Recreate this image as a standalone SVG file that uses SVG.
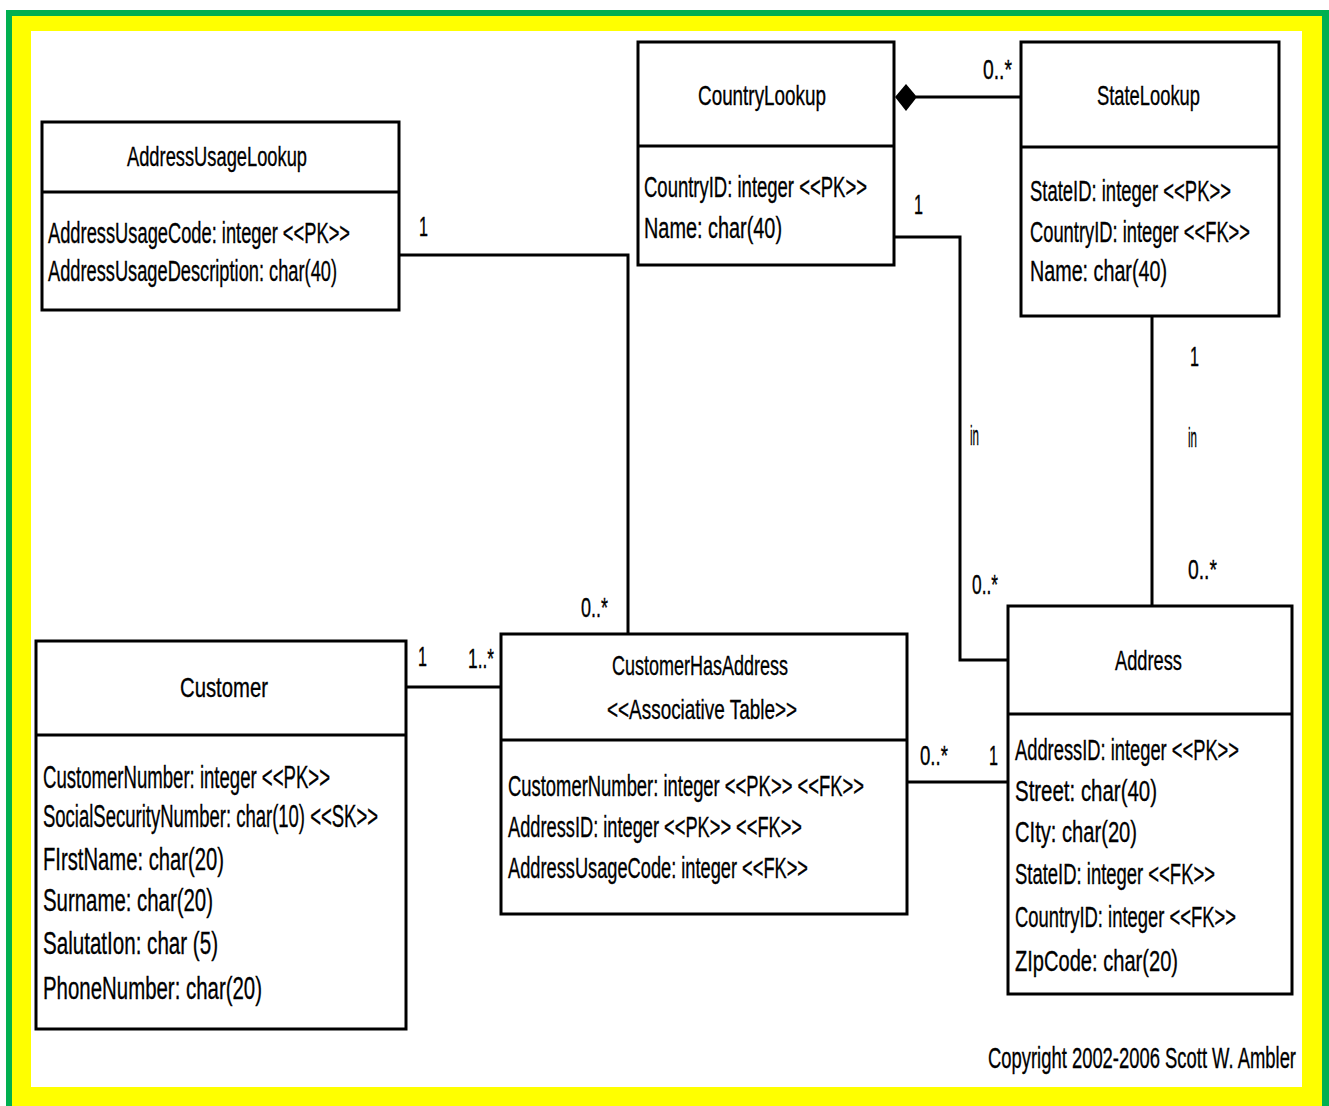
<svg xmlns="http://www.w3.org/2000/svg" width="1329" height="1106" viewBox="0 0 1329 1106">
  <style>
    .box { fill: #ffffff; stroke: #000000; stroke-width: 3; }
    .div { stroke: #000000; stroke-width: 3; fill: none; }
    .conn { stroke: #000000; stroke-width: 3; fill: none; }
    text { font-family: "Liberation Sans Narrow", "Liberation Sans", Arial, sans-serif; fill: #000000; stroke: #000000; stroke-width: 0.35; }
    .title { font-size: 28px; }
    .attr { font-size: 29px; }
    .big { font-size: 31px; }
    .lbl { font-size: 27px; }
  </style>

  <!-- frame -->
  <rect x="0" y="0" width="1329" height="1106" fill="#ffffff"/>
  <rect x="6" y="10" width="1323" height="1096" fill="#00b050"/>
  <rect x="12" y="16" width="1310" height="1090" fill="#ffff00"/>
  <rect x="31" y="31" width="1271" height="1056" fill="#ffffff"/>

  <!-- connectors -->
  <g id="connectors">
    <polyline class="conn" points="399,255 628,255 628,634"/>
    <line class="conn" x1="406" y1="687" x2="501" y2="687"/>
    <line class="conn" x1="907" y1="782" x2="1008" y2="782"/>
    <polyline class="conn" points="895,237 960,237 960,660 1008,660"/>
    <line class="conn" x1="1152" y1="316" x2="1152" y2="606"/>
    <line class="conn" x1="916" y1="97" x2="1021" y2="97"/>
    <polygon points="895,97 906,84 917,97 906,111" fill="#000000"/>

    <text class="lbl" x="419" y="236" textLength="9" lengthAdjust="spacingAndGlyphs">1</text>
    <text class="lbl" x="581" y="617" textLength="27" lengthAdjust="spacingAndGlyphs">0..*</text>
    <text class="lbl" x="418" y="666" textLength="9" lengthAdjust="spacingAndGlyphs">1</text>
    <text class="lbl" x="468" y="668" textLength="26" lengthAdjust="spacingAndGlyphs">1..*</text>
    <text class="lbl" x="920" y="765" textLength="28" lengthAdjust="spacingAndGlyphs">0..*</text>
    <text class="lbl" x="989" y="765" textLength="9" lengthAdjust="spacingAndGlyphs">1</text>
    <text class="lbl" x="983" y="79" textLength="29" lengthAdjust="spacingAndGlyphs">0..*</text>
    <text class="lbl" x="914" y="214" textLength="9" lengthAdjust="spacingAndGlyphs">1</text>
    <text class="lbl" x="970" y="445" textLength="9" lengthAdjust="spacingAndGlyphs">in</text>
    <text class="lbl" x="972" y="594" textLength="26" lengthAdjust="spacingAndGlyphs">0..*</text>
    <text class="lbl" x="1190" y="366" textLength="9" lengthAdjust="spacingAndGlyphs">1</text>
    <text class="lbl" x="1188" y="447" textLength="9" lengthAdjust="spacingAndGlyphs">in</text>
    <text class="lbl" x="1188" y="579" textLength="29" lengthAdjust="spacingAndGlyphs">0..*</text>
  </g>

  <!-- AddressUsageLookup -->
  <g id="AddressUsageLookup">
    <rect class="box" x="42" y="122" width="357" height="188"/>
    <line class="div" x1="42" y1="192" x2="399" y2="192"/>
    <text class="title" x="127" y="166" textLength="180" lengthAdjust="spacingAndGlyphs">AddressUsageLookup</text>
    <text class="attr" x="48" y="243" textLength="302" lengthAdjust="spacingAndGlyphs">AddressUsageCode: integer &lt;&lt;PK&gt;&gt;</text>
    <text class="attr" x="48" y="281" textLength="289" lengthAdjust="spacingAndGlyphs">AddressUsageDescription: char(40)</text>
  </g>

  <!-- CountryLookup -->
  <g id="CountryLookup">
    <rect class="box" x="638" y="42" width="256" height="223"/>
    <line class="div" x1="638" y1="146" x2="894" y2="146"/>
    <text class="title" x="698" y="105" textLength="128" lengthAdjust="spacingAndGlyphs">CountryLookup</text>
    <text class="attr" x="644" y="197" textLength="223" lengthAdjust="spacingAndGlyphs">CountryID: integer &lt;&lt;PK&gt;&gt;</text>
    <text class="attr" x="644" y="238" textLength="138" lengthAdjust="spacingAndGlyphs">Name: char(40)</text>
  </g>

  <!-- StateLookup -->
  <g id="StateLookup">
    <rect class="box" x="1021" y="42" width="258" height="274"/>
    <line class="div" x1="1021" y1="147" x2="1279" y2="147"/>
    <text class="title" x="1097" y="105" textLength="103" lengthAdjust="spacingAndGlyphs">StateLookup</text>
    <text class="attr" x="1030" y="201" textLength="201" lengthAdjust="spacingAndGlyphs">StateID: integer &lt;&lt;PK&gt;&gt;</text>
    <text class="attr" x="1030" y="242" textLength="220" lengthAdjust="spacingAndGlyphs">CountryID: integer &lt;&lt;FK&gt;&gt;</text>
    <text class="attr" x="1030" y="281" textLength="137" lengthAdjust="spacingAndGlyphs">Name: char(40)</text>
  </g>

  <!-- Customer -->
  <g id="Customer">
    <rect class="box" x="36" y="641" width="370" height="388"/>
    <line class="div" x1="36" y1="735" x2="406" y2="735"/>
    <text class="title" x="180" y="697" textLength="88" lengthAdjust="spacingAndGlyphs">Customer</text>
    <text class="big" x="43" y="788" textLength="287" lengthAdjust="spacingAndGlyphs">CustomerNumber: integer &lt;&lt;PK&gt;&gt;</text>
    <text class="big" x="43" y="827" textLength="335" lengthAdjust="spacingAndGlyphs">SocialSecurityNumber: char(10) &lt;&lt;SK&gt;&gt;</text>
    <text class="big" x="43" y="870" textLength="181" lengthAdjust="spacingAndGlyphs">FIrstName: char(20)</text>
    <text class="big" x="43" y="911" textLength="170" lengthAdjust="spacingAndGlyphs">Surname: char(20)</text>
    <text class="big" x="43" y="954" textLength="175" lengthAdjust="spacingAndGlyphs">SalutatIon: char (5)</text>
    <text class="big" x="43" y="999" textLength="219" lengthAdjust="spacingAndGlyphs">PhoneNumber: char(20)</text>
  </g>

  <!-- CustomerHasAddress -->
  <g id="CustomerHasAddress">
    <rect class="box" x="501" y="634" width="406" height="280"/>
    <line class="div" x1="501" y1="740" x2="907" y2="740"/>
    <text class="title" x="612" y="675" textLength="176" lengthAdjust="spacingAndGlyphs">CustomerHasAddress</text>
    <text class="title" x="607" y="719" textLength="190" lengthAdjust="spacingAndGlyphs">&lt;&lt;Associative Table&gt;&gt;</text>
    <text class="attr" x="508" y="796" textLength="356" lengthAdjust="spacingAndGlyphs">CustomerNumber: integer &lt;&lt;PK&gt;&gt; &lt;&lt;FK&gt;&gt;</text>
    <text class="attr" x="508" y="837" textLength="294" lengthAdjust="spacingAndGlyphs">AddressID: integer &lt;&lt;PK&gt;&gt; &lt;&lt;FK&gt;&gt;</text>
    <text class="attr" x="508" y="878" textLength="300" lengthAdjust="spacingAndGlyphs">AddressUsageCode: integer &lt;&lt;FK&gt;&gt;</text>
  </g>

  <!-- Address -->
  <g id="Address">
    <rect class="box" x="1008" y="606" width="284" height="388"/>
    <line class="div" x1="1008" y1="714" x2="1292" y2="714"/>
    <text class="title" x="1115" y="670" textLength="67" lengthAdjust="spacingAndGlyphs">Address</text>
    <text class="attr" x="1015" y="760" textLength="224" lengthAdjust="spacingAndGlyphs">AddressID: integer &lt;&lt;PK&gt;&gt;</text>
    <text class="attr" x="1015" y="801" textLength="142" lengthAdjust="spacingAndGlyphs">Street: char(40)</text>
    <text class="attr" x="1015" y="842" textLength="122" lengthAdjust="spacingAndGlyphs">CIty: char(20)</text>
    <text class="attr" x="1015" y="884" textLength="200" lengthAdjust="spacingAndGlyphs">StateID: integer &lt;&lt;FK&gt;&gt;</text>
    <text class="attr" x="1015" y="927" textLength="221" lengthAdjust="spacingAndGlyphs">CountryID: integer &lt;&lt;FK&gt;&gt;</text>
    <text class="attr" x="1015" y="971" textLength="163" lengthAdjust="spacingAndGlyphs">ZIpCode: char(20)</text>
  </g>

  <text class="attr" x="988" y="1068" textLength="308" lengthAdjust="spacingAndGlyphs">Copyright 2002-2006 Scott W. Ambler</text>
</svg>
